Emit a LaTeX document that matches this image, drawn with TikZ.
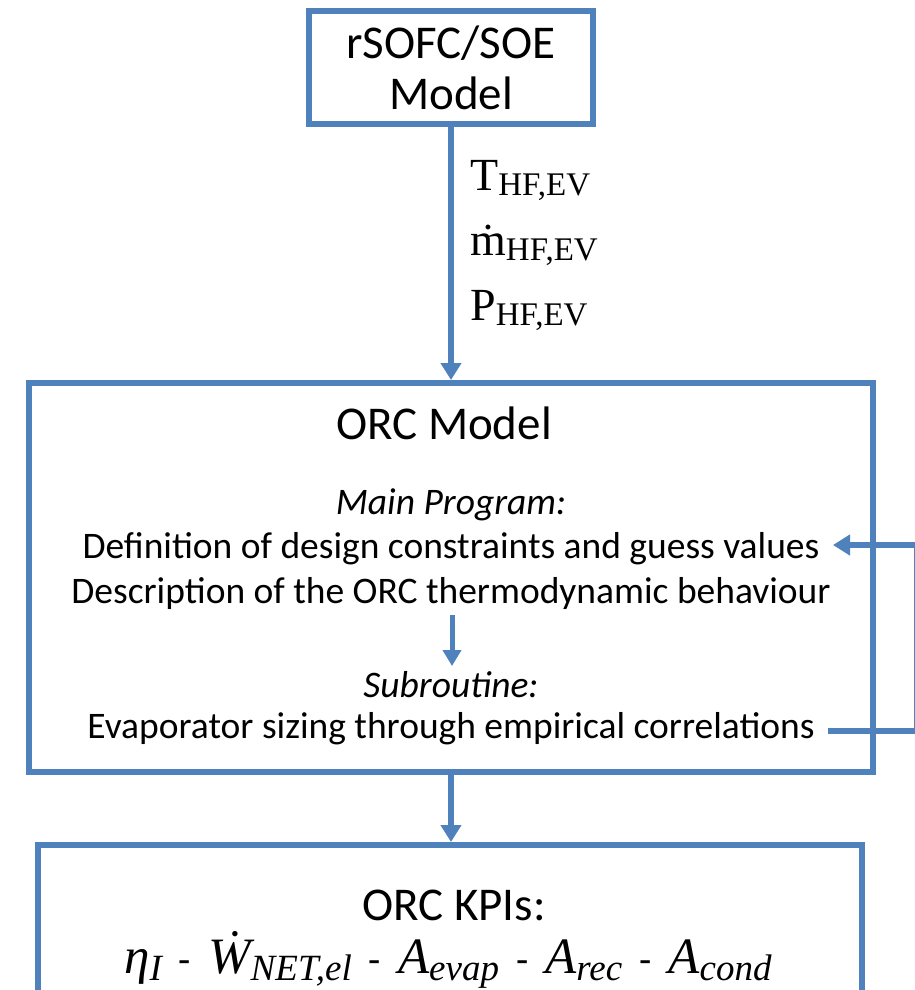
\documentclass[tikz,border=0pt]{standalone}
\usepackage{fontspec}
\setmainfont{Carlito}
\newfontfamily\seriffont{Liberation Serif}
\usetikzlibrary{arrows.meta}
\definecolor{boxblue}{RGB}{79,129,189}
\newcommand{\labsub}[1]{\raisebox{-0.25ex}{\fontsize{33}{36}\selectfont #1}}
\newcommand{\fsub}[1]{\raisebox{-0.3ex}{\fontsize{37}{40}\selectfont #1}}
\newcommand{\dsh}{{\fontsize{40}{44}\selectfont\upshape\rmfamily\hspace{17pt}-\hspace{17pt}}}
\begin{document}
\begin{tikzpicture}[x=1pt,y=-1pt,
  box/.style={draw=boxblue,line width=6pt,fill=white,inner sep=0pt,align=center},
  conn/.style={draw=boxblue,line width=6pt,-{Triangle[width=20pt,length=17pt]}},
  title/.style={font=\fontsize{47}{51}\selectfont,inner sep=0pt,align=center},
  body/.style={font=\fontsize{37.5}{44}\selectfont,inner sep=0pt},
  bodyit/.style={font=\fontsize{37.5}{44}\selectfont\itshape,inner sep=0pt},
  lab/.style={font=\seriffont\fontsize{46}{50}\selectfont,inner sep=0pt,anchor=base west}]
\useasboundingbox (0,0) rectangle (915,990);
% boxes
\node[box,minimum width=284pt,minimum height=113pt,title] (top) at (451,67.5) {rSOFC/SOE\\Model};
\node[box,minimum width=844pt,minimum height=389pt] (orc) at (451,577.5) {};
\begin{scope}
\clip (0,0) rectangle (915,990);
\node[box,minimum width=824pt,minimum height=300pt] (kpi) at (450,995) {};
\end{scope}
% labels
\node[lab] (lt) at (470,190) {T\labsub{HF,EV}};
\node[lab] (lm) at (470,255) {ṁ\labsub{HF,EV}};
\node[lab] (lp) at (470,320) {P\labsub{HF,EV}};
% ORC text
\node[title] (orct) at (444,423) {ORC Model};
\node[bodyit] (mp) at (451,505) {Main Program:};
\node[body] (def) at (451,549) {Definition of design constraints and guess values};
\node[body] (desc) at (451,593) {Description of the ORC thermodynamic behaviour};
\node[bodyit] (sub) at (451,685) {Subroutine:};
\node[body] (evap) at (451,729) {Evaporator sizing through empirical correlations};
% KPI text
\node[title] (kt) at (454,905) {ORC KPIs:};
\node[inner sep=0pt,anchor=base,font=\seriffont\itshape\fontsize{51}{56}\selectfont] (kf) at (448,973)
  {η\fsub{I}\dsh\.{W}\fsub{NET,el}\dsh A\fsub{evap}\dsh A\fsub{rec}\dsh A\fsub{cond}};
% connectors
\draw[conn] (top.south) -- (orc.north);
\draw[conn] (orc.south) -- (orc.south |- kpi.north);
\coordinate (a1) at (452,615);
\coordinate (a2) at (452,666);
\draw[conn,line width=5pt,-{Triangle[width=18pt,length=16pt]}] (a1) -- (a2);
\coordinate (ls) at (828,731);
\coordinate (le) at (833,545);
\coordinate (lr) at (917,0);
\begin{scope}
\clip (0,0) rectangle (915,990);
\draw[conn] (ls) -- (ls -| lr) |- (le);
\end{scope}
\end{tikzpicture}
\end{document}
